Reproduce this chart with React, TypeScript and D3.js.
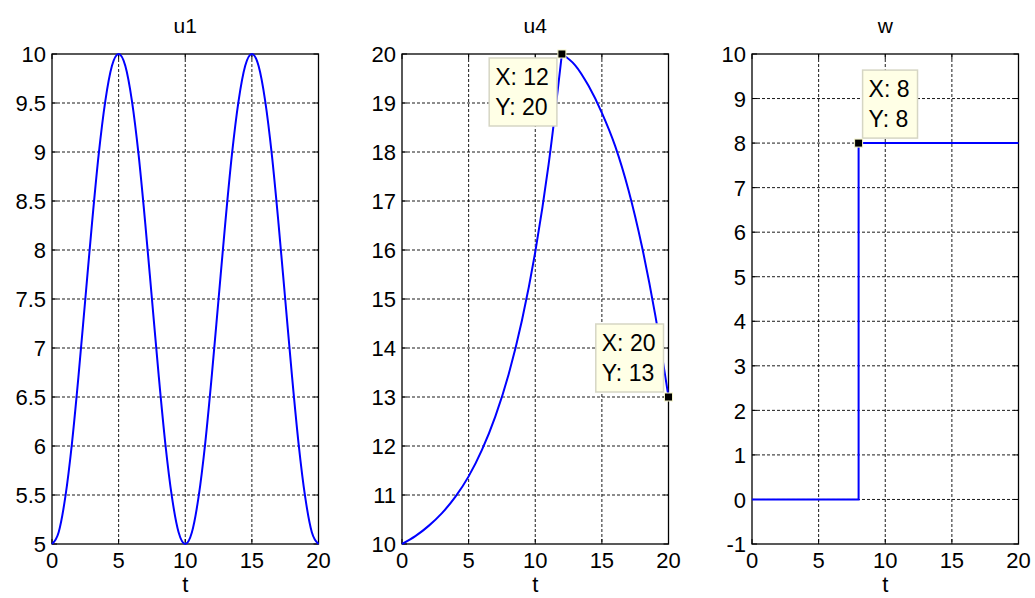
import React from "react";
import * as d3 from "d3";

const tU1 = [0, 0.5, 1, 1.5, 2, 2.5, 3, 3.5, 4, 4.5, 5, 5.5, 6, 6.5, 7, 7.5, 8, 8.5, 9, 9.5, 10,
  10.5, 11, 11.5, 12, 12.5, 13, 13.5, 14, 14.5, 15, 15.5, 16, 16.5, 17, 17.5, 18, 18.5, 19, 19.5, 20];
const u1 = [5, 5.12, 5.48, 6.03, 6.73, 7.5, 8.27, 8.97, 9.52, 9.88, 10, 9.88, 9.52, 8.97, 8.27, 7.5, 6.73, 6.03, 5.48, 5.12, 5,
  5.12, 5.48, 6.03, 6.73, 7.5, 8.27, 8.97, 9.52, 9.88, 10, 9.88, 9.52, 8.97, 8.27, 7.5, 6.73, 6.03, 5.48, 5.12, 5];

const tU4 = [0, 1, 2, 3, 4, 5, 6, 7, 8, 9, 10, 11, 12, 13, 14, 15, 16, 17, 18, 19, 20];
const u4 = [10, 10.16, 10.37, 10.63, 10.96, 11.38, 11.92, 12.6, 13.46, 14.56, 15.96, 17.74, 20,
  19.77, 19.35, 18.8, 18.12, 17.22, 16.08, 14.68, 13];

const tW = [0, 8, 8, 20];
const w = [0, 0, 8, 8];

const titles = ["u1", "u4", "w"];
const xTicks = [0, 5, 10, 15, 20];
const u1Ticks = [5, 5.5, 6, 6.5, 7, 7.5, 8, 8.5, 9, 9.5, 10];
const u4Ticks = [10, 11, 12, 13, 14, 15, 16, 17, 18, 19, 20];
const wTicks = [-1, 0, 1, 2, 3, 4, 5, 6, 7, 8, 9, 10];

// data tips: [panel, x, y]
const tips = [
  [1, 12, 20],
  [1, 20, 13],
  [2, 8, 8],
];
// where the box sits relative to the marker
const tipPlacement = ["below-left", "above-left", "above-right"];

const W = 1035;
const H = 598;
const top = 54;
const bottom = 544;
const lefts = [52, 402, 752];
const plotW = 266.5;
const font = "'Liberation Sans', Arial, Helvetica, sans-serif";

const panels = [
  { t: tU1, v: u1, ticks: u1Ticks, curve: d3.curveMonotoneX, breaks: [] as number[] },
  { t: tU4, v: u4, ticks: u4Ticks, curve: d3.curveMonotoneX, breaks: [12] },
  { t: tW, v: w, ticks: wTicks, curve: d3.curveLinear, breaks: [] as number[] },
];

function Panel({ i }: { i: number }) {
  const p = panels[i];
  const left = lefts[i];
  const right = left + plotW;
  const x = d3.scaleLinear().domain([0, 20]).range([left, right]);
  const y = d3.scaleLinear().domain(d3.extent(p.ticks) as [number, number]).range([bottom, top]);

  const pts = p.t.map((t, k) => [t, p.v[k]] as [number, number]);
  // split at kinks so the smooth curve keeps the corner
  const segs: [number, number][][] = [];
  let start = 0;
  p.breaks.forEach((b) => {
    const idx = p.t.indexOf(b);
    segs.push(pts.slice(start, idx + 1));
    start = idx;
  });
  segs.push(pts.slice(start));

  const line = d3.line<[number, number]>()
    .x((d) => x(d[0]))
    .y((d) => y(d[1]))
    .curve(p.curve);

  const tk = 5;

  return (
    <g>
      <text x={(left + right) / 2} y={33} textAnchor="middle" fontSize={21} fontFamily={font}>{titles[i]}</text>
      {/* grid */}
      {xTicks.slice(1, -1).map((t) => (
        <line key={"gx" + t} x1={x(t)} x2={x(t)} y1={top} y2={bottom} stroke="#000" strokeWidth={0.9} strokeDasharray="3,2" />
      ))}
      {p.ticks.slice(1, -1).map((t) => (
        <line key={"gy" + t} x1={left} x2={right} y1={y(t)} y2={y(t)} stroke="#000" strokeWidth={0.9} strokeDasharray="3,2" />
      ))}
      {/* ticks inside on all sides */}
      {xTicks.map((t) => (
        <g key={"tx" + t}>
          <line x1={x(t)} x2={x(t)} y1={bottom} y2={bottom - tk} stroke="#000" />
          <line x1={x(t)} x2={x(t)} y1={top} y2={top + tk} stroke="#000" />
          <text x={x(t)} y={bottom + 24} textAnchor="middle" fontSize={22} fontFamily={font}>{t}</text>
        </g>
      ))}
      {p.ticks.map((t) => (
        <g key={"ty" + t}>
          <line x1={left} x2={left + tk} y1={y(t)} y2={y(t)} stroke="#000" />
          <line x1={right} x2={right - tk} y1={y(t)} y2={y(t)} stroke="#000" />
          <text x={left - 6} y={y(t)} dy="0.37em" textAnchor="end" fontSize={22} fontFamily={font}>{t}</text>
        </g>
      ))}
      <rect x={left} y={top} width={plotW} height={bottom - top} fill="none" stroke="#000" strokeWidth={1.3} />
      {segs.map((s, k) => (
        <path key={k} d={line(s) || ""} fill="none" stroke="#0000ff" strokeWidth={2} />
      ))}
      <text x={(left + right) / 2} y={bottom + 48} textAnchor="middle" fontSize={22} fontFamily={font}>t</text>
      {tips.map((tp, k) => {
        if (tp[0] !== i) return null;
        const mx = x(tp[1]);
        const my = y(tp[2]);
        const fs = 23;
        const l1 = `X: ${tp[1]}`;
        const l2 = `Y: ${tp[2]}`;
        const digits = Math.max(String(tp[1]).length, String(tp[2]).length);
        const bw = 1.223 * fs + digits * 0.556 * fs + 14;
        const bh = 68;
        const place = tipPlacement[k];
        const bx = place.endsWith("left") ? mx - 5 - bw : mx + 4;
        const by = place.startsWith("below") ? my + 4 : my - 5 - bh;
        return (
          <g key={"tip" + k}>
            <rect x={bx} y={by} width={bw} height={bh} fill="#ffffe6" stroke="#d6d6c4" strokeWidth={1.5} />
            <text x={bx + 6} y={by + 27} fontSize={fs} fontFamily={font}>{l1}</text>
            <text x={bx + 6} y={by + 57} fontSize={fs} fontFamily={font}>{l2}</text>
            <rect x={mx - 4} y={my - 4} width={8} height={8} fill="#000" stroke="#f4f4c8" strokeWidth={1} />
          </g>
        );
      })}
    </g>
  );
}

export default function App() {
  return (
    <svg width={W} height={H} style={{ position: "absolute", left: 0, top: 0, background: "#fff" }}>
      <rect width={W} height={H} fill="#fff" />
      {panels.map((_, i) => (
        <Panel key={i} i={i} />
      ))}
    </svg>
  );
}
